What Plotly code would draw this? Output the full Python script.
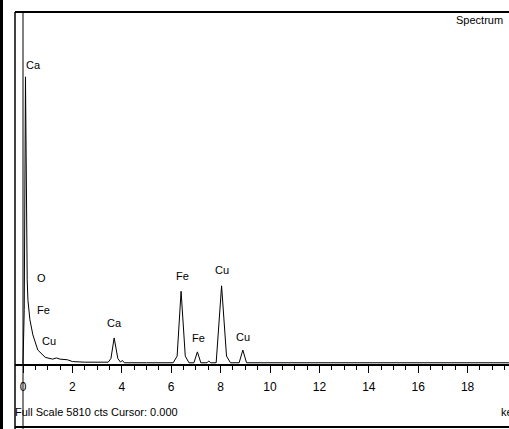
import plotly.graph_objects as go

# spectrum (keV, counts)
energy = [0.0, 0.05, 0.10, 0.14, 0.17, 0.20, 0.28, 0.40, 0.60, 0.90, 1.2, 1.35, 1.5, 1.8, 2.0,
          2.5, 3.0, 3.45, 3.56, 3.69, 3.84, 3.95, 4.02, 4.10, 5.0, 6.08, 6.24, 6.40, 6.57, 6.72,
          6.92, 7.06, 7.20, 7.45, 7.52, 7.6, 7.82, 8.04, 8.24, 8.4, 8.75, 8.9, 9.05, 9.2, 12.0, 20.0]
counts = [0, 900, 4740, 2400, 1390, 1050, 730, 480, 230, 110, 80, 100, 80, 70, 40,
          30, 30, 30, 90, 430, 90, 30, 60, 20, 20, 20, 130, 1200, 130, 20,
          20, 200, 20, 20, 50, 20, 20, 1290, 130, 20, 20, 230, 20, 20, 20, 20]

peak_names = ["Ca", "O", "Fe", "Cu", "Ca", "Fe", "Fe", "Cu", "Cu"]
peak_x = [0.04, 0.47, 0.49, 0.69, 3.72, 6.44, 7.09, 8.06, 8.91]
peak_y = [4935, 1420, 890, 380, 677, 1452, 429, 1551, 446]
peak_anchor = ["left", "left", "left", "left", "center", "center", "center", "center", "center"]

full_scale = 5810
FONT = "Liberation Sans Narrow, Arial Narrow, Liberation Sans, sans-serif"

fig = go.Figure()
fig.add_trace(go.Scatter(x=energy, y=counts, mode="lines",
                         line=dict(color="black", width=1), hoverinfo="skip"))

for name, px_, py_, anc in zip(peak_names, peak_x, peak_y, peak_anchor):
    fig.add_annotation(x=px_, y=py_, text=name, showarrow=False, xanchor=anc,
                       font=dict(size=11, color="black", family=FONT))

# cursor line at 0 keV
fig.add_shape(type="line", x0=0, x1=0, y0=0, y1=1 - 12 / 429, xref="x", yref="paper",
              line=dict(color="#808080", width=2), layer="below")

# frame lines
fig.add_shape(type="line", x0=15 / 509, x1=1, y0=1 - 12 / 429, y1=1 - 12 / 429,
              xref="paper", yref="paper", line=dict(color="black", width=2))
fig.add_shape(type="line", x0=15 / 509, x1=15 / 509, y0=0, y1=1 - 12 / 429,
              xref="paper", yref="paper", line=dict(color="black", width=1.5))
fig.add_shape(type="line", x0=15 / 509, x1=1, y0=2 / 429, y1=2 / 429,
              xref="paper", yref="paper", line=dict(color="black", width=2))
fig.add_shape(type="rect", x0=0, x1=3 / 509, y0=0, y1=1,
              xref="paper", yref="paper", line=dict(width=0), fillcolor="black")

fig.add_annotation(x=1 - 4 / 509, y=1 - 20 / 429, xref="paper", yref="paper",
                   text="Spectrum", showarrow=False, xanchor="right", yanchor="middle",
                   font=dict(size=11, color="black", family=FONT))
fig.add_annotation(x=15 / 509, y=1 - 412 / 429, xref="paper", yref="paper",
                   text=f"Full Scale {full_scale} cts Cursor: 0.000", showarrow=False,
                   xanchor="left", yanchor="middle", xshift=-2,
                   font=dict(size=11, color="black", family=FONT))
fig.add_annotation(x=1, y=1 - 412 / 429, xref="paper", yref="paper",
                   text="keV", showarrow=False, xanchor="left", yanchor="middle", xshift=-10,
                   font=dict(size=11, color="black", family=FONT))

fig.update_layout(
    width=509, height=429,
    margin=dict(l=0, r=0, t=0, b=0),
    paper_bgcolor="white", plot_bgcolor="white",
    showlegend=False,
    xaxis=dict(domain=[15 / 509, 1], range=[-0.324, 19.676],
               anchor="free", position=(429 - 365) / 429,
               showline=True, linecolor="black", linewidth=2,
               showgrid=False, zeroline=False,
               ticks="outside", ticklen=7, tickwidth=1, tickcolor="black",
               dtick=2, tick0=0, ticklabelstandoff=4,
               minor=dict(dtick=0.5, ticks="outside", ticklen=4, tickcolor="black"),
               tickfont=dict(size=12, color="black", family=FONT)),
    yaxis=dict(range=[-1073, 6008], visible=False, showgrid=False),
)

fig.write_html("out.html", config={"displayModeBar": False},
               post_script="document.body.style.margin='0';document.body.style.overflow='hidden';")
